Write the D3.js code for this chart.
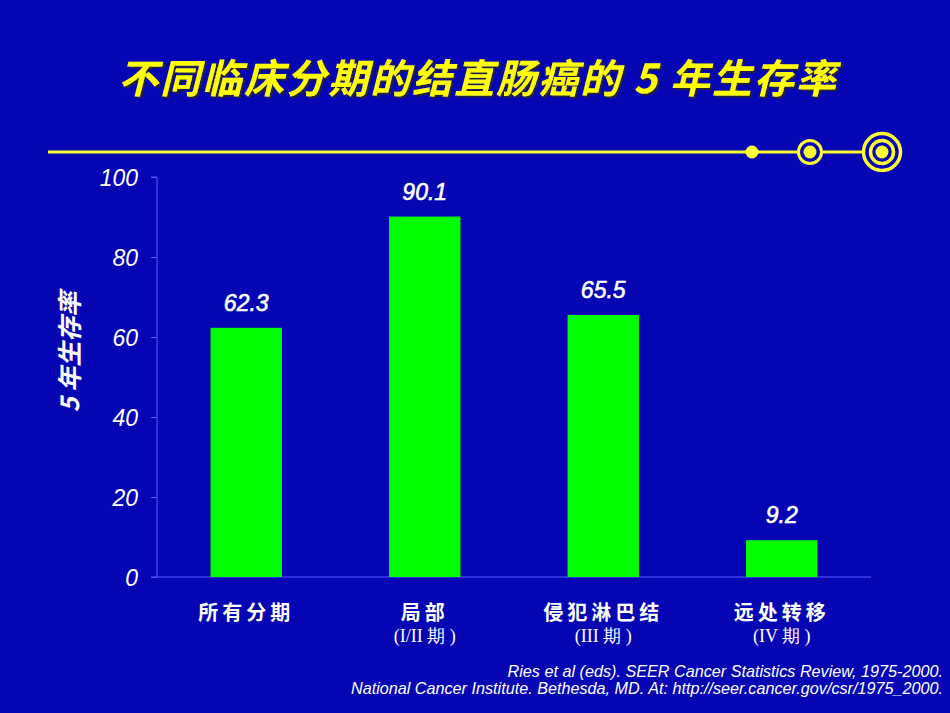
<!DOCTYPE html>
<html lang="zh">
<head>
<meta charset="UTF-8">
<script src="https://cdn.jsdelivr.net/npm/d3@7/dist/d3.min.js"></script>
<style>
  body { margin: 0; background: #0505b4; }
  svg { display: block; }
</style>
</head>
<body>
<svg width="950" height="713"></svg>
<script>
// data
const categories = ["所有分期", "局部", "侵犯淋巴结", "远处转移"];
const subLabels = ["", "(I/II 期 )", "(III 期 )", "(IV 期 )"];
const survival = [62.3, 90.1, 65.5, 9.2];
const yTicks = [0, 20, 40, 60, 80, 100];

const width = 950, height = 713;
const margin = {top: 177, right: 79, bottom: 134, left: 157};

const svg = d3.select("svg");

svg.append("rect")
    .attr("width", width)
    .attr("height", height)
    .attr("fill", "#0505b4");

// shadow for the title
const defs = svg.append("defs");
defs.append("filter").attr("id", "shadow")
  .append("feDropShadow")
    .attr("dx", 2).attr("dy", 2).attr("stdDeviation", 0.5)
    .attr("flood-color", "#202040").attr("flood-opacity", 1);

svg.append("text")
    .attr("x", 478).attr("y", 93)
    .attr("text-anchor", "middle")
    .attr("font-family", "Noto Sans CJK SC")
    .attr("font-weight", "bold")
    .attr("font-style", "italic")
    .attr("font-size", 40)
    .attr("letter-spacing", 2)
    .attr("fill", "#ffff00")
    .attr("filter", "url(#shadow)")
    .text("不同临床分期的结直肠癌的 5 年生存率");

// decorative line
const deco = svg.append("g").attr("stroke", "#ffff33").attr("fill", "#ffff33");
deco.append("line")
    .attr("x1", 48).attr("x2", 862).attr("y1", 152).attr("y2", 152)
    .attr("stroke-width", 3);
deco.append("circle").attr("cx", 752).attr("cy", 152).attr("r", 6.5).attr("stroke", "none");
deco.append("circle").attr("cx", 810).attr("cy", 152).attr("r", 11.5)
    .attr("fill", "#0505b4").attr("stroke-width", 3);
deco.append("circle").attr("cx", 810).attr("cy", 152).attr("r", 6.5).attr("stroke", "none");
deco.append("circle").attr("cx", 882).attr("cy", 152).attr("r", 18.5)
    .attr("fill", "#0505b4").attr("stroke-width", 3.5);
deco.append("circle").attr("cx", 882).attr("cy", 152).attr("r", 11.5)
    .attr("fill", "#0505b4").attr("stroke-width", 3.5);
deco.append("circle").attr("cx", 882).attr("cy", 152).attr("r", 6.5).attr("stroke", "none");

// scales
const x = d3.scaleBand()
    .domain(categories)
    .range([margin.left, width - margin.right])
    .paddingInner(0.6)
    .paddingOuter(0.3);

const y = d3.scaleLinear()
    .domain([0, 100])
    .range([height - margin.bottom - 2, margin.top]);

// y axis
const yAxis = svg.append("g")
    .attr("transform", `translate(${margin.left},0)`)
    .call(d3.axisLeft(y).tickValues(yTicks).tickSize(6).tickPadding(13));
yAxis.selectAll("line, path").attr("stroke", "#5a5aff");
yAxis.select(".domain").attr("d", `M-6,${y(100)}H0V${y(0)}`);
yAxis.selectAll("text")
    .attr("fill", "#ffffff")
    .attr("font-family", "Liberation Sans, Arial, sans-serif")
    .attr("font-size", 23)
    .attr("font-style", "italic")
    .attr("dy", "0.35em");

// x axis baseline
svg.append("line")
    .attr("x1", margin.left - 6).attr("x2", width - margin.right)
    .attr("y1", y(0)).attr("y2", y(0))
    .attr("stroke", "#5a5aff");

// bars
svg.append("g")
    .selectAll("rect")
    .data(survival)
    .join("rect")
    .attr("x", (d, i) => x(categories[i]))
    .attr("y", d => y(d))
    .attr("width", x.bandwidth())
    .attr("height", d => y(0) - y(d))
    .attr("fill", "#00ff00");

// value labels
svg.append("g")
    .selectAll("text")
    .data(survival)
    .join("text")
    .attr("x", (d, i) => x(categories[i]) + x.bandwidth() / 2)
    .attr("y", d => y(d) - 17)
    .attr("text-anchor", "middle")
    .attr("font-family", "Liberation Sans, Arial, sans-serif")
    .attr("font-size", 23)
    .attr("font-style", "italic")
    .attr("fill", "#ffffff")
    .attr("stroke", "#ffffff")
    .attr("stroke-width", 0.6)
    .text(d => d.toFixed(1));

// category labels
svg.append("g")
    .selectAll("text")
    .data(categories)
    .join("text")
    .attr("x", d => x(d) + x.bandwidth() / 2)
    .attr("y", 620)
    .attr("text-anchor", "middle")
    .attr("font-family", "Noto Sans CJK SC")
    .attr("font-weight", "bold")
    .attr("font-size", 20)
    .attr("letter-spacing", 4)
    .attr("fill", "#ffffff")
    .text(d => d);

svg.append("g")
    .selectAll("text")
    .data(subLabels)
    .join("text")
    .attr("x", (d, i) => x(categories[i]) + x.bandwidth() / 2)
    .attr("y", 642)
    .attr("text-anchor", "middle")
    .attr("font-family", "Liberation Serif, Times New Roman, serif")
    .attr("font-size", 18)
    .attr("fill", "#ffffff")
    .text(d => d);

// y axis title
svg.append("text")
    .attr("transform", "translate(79,352) rotate(-90)")
    .attr("text-anchor", "middle")
    .attr("font-family", "Noto Sans CJK SC")
    .attr("font-weight", "bold")
    .attr("font-style", "italic")
    .attr("font-size", 25)
    .attr("fill", "#ffffff")
    .text("5 年生存率");

// source note
const note = svg.append("g")
    .attr("font-family", "Liberation Sans, Arial, sans-serif")
    .attr("font-style", "italic")
    .attr("font-size", 16.2)
    .attr("fill", "#ffffff")
    .attr("text-anchor", "end");
note.append("text").attr("x", 943).attr("y", 677)
    .text("Ries et al (eds). SEER Cancer Statistics Review, 1975-2000.");
note.append("text").attr("x", 943).attr("y", 694)
    .text("National Cancer Institute. Bethesda, MD. At: http://seer.cancer.gov/csr/1975_2000.");
</script>
</body>
</html>
